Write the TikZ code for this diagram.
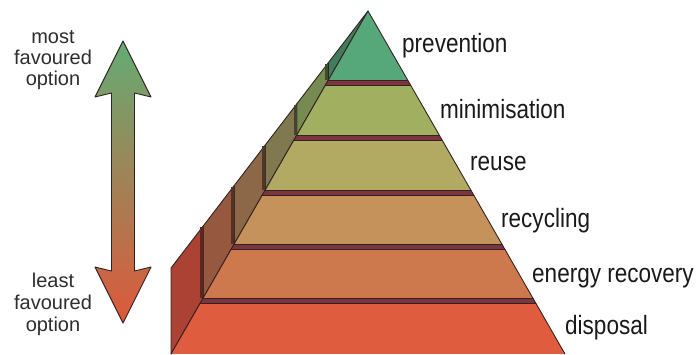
\documentclass[tikz,border=0pt]{standalone}
\usepackage{fontspec}
\setmainfont{Liberation Sans}
\definecolor{fc1}{RGB}{86,168,122}
\definecolor{fc2}{RGB}{160,176,96}
\definecolor{fc3}{RGB}{178,170,98}
\definecolor{fc4}{RGB}{198,146,92}
\definecolor{fc5}{RGB}{206,120,78}
\definecolor{fc6}{RGB}{224,92,62}
\definecolor{wc1}{RGB}{66,124,92}
\definecolor{wc2}{RGB}{118,138,82}
\definecolor{wc3}{RGB}{128,120,78}
\definecolor{wc4}{RGB}{140,104,72}
\definecolor{wc5}{RGB}{150,88,62}
\definecolor{wc6}{RGB}{172,66,52}
\definecolor{sepcol}{RGB}{125,52,62}
\definecolor{edgecol}{RGB}{50,35,35}
\definecolor{labcol}{RGB}{25,25,25}
\definecolor{sidecol}{RGB}{45,45,45}
\definecolor{arrtop}{RGB}{100,172,115}
\definecolor{arrmid}{RGB}{168,142,78}
\definecolor{arrbot}{RGB}{222,88,58}
\newcommand{\nar}[1]{\scalebox{0.85}[1]{#1}}
\begin{document}
\begin{tikzpicture}[x=1pt,y=-1pt,line join=round,
  edge/.style={draw=edgecol,line width=0.9pt},
  wallstrip/.style={line width=3pt},
  sepband/.style={fill=sepcol,draw=edgecol,line width=0.8pt},
  lab/.style={anchor=base west,inner sep=0pt,text=labcol,font=\fontsize{26.5}{30}\selectfont},
  sidelab/.style={anchor=base,inner sep=0pt,text=sidecol,font=\fontsize{20}{22}\selectfont}]
\useasboundingbox (0,0) rectangle (697,354);
% key points
\coordinate (A) at (368,11);
\coordinate (BL) at (171.0,354);
\coordinate (BR) at (565.0,354);
\coordinate (s1) at (328.37,62.7);  \coordinate (f1) at (328.37,80);
\coordinate (s2) at (296.78,103.9); \coordinate (f2) at (296.78,135);
\coordinate (s3) at (265.19,145.1); \coordinate (f3) at (265.19,190);
\coordinate (s4) at (234.18,185.6); \coordinate (f4) at (234.18,244);
\coordinate (s5) at (203.16,226.1); \coordinate (f5) at (203.16,298);
\coordinate (s6) at (171.0,268.0);  \coordinate (f6) at (171.0,354);
% side walls
\filldraw[fill=wc1,edge] (s1) -- (A) -- (f1) -- cycle;
\filldraw[fill=wc2,edge] (s2) -- (s1) -- (f1) -- (f2) -- cycle;
\filldraw[fill=wc3,edge] (s3) -- (s2) -- (f2) -- (f3) -- cycle;
\filldraw[fill=wc4,edge] (s4) -- (s3) -- (f3) -- (f4) -- cycle;
\filldraw[fill=wc5,edge] (s5) -- (s4) -- (f4) -- (f5) -- cycle;
\filldraw[fill=wc6,edge] (s6) -- (s5) -- (f5) -- (f6) -- cycle;
\draw[wallstrip,draw=wc2!55!black] ([xshift=-1.6pt,yshift=-1pt]s1) -- ([xshift=-1.6pt]f1);
\draw[wallstrip,draw=wc3!55!black] ([xshift=-1.6pt,yshift=-1pt]s2) -- ([xshift=-1.6pt]f2);
\draw[wallstrip,draw=wc4!55!black] ([xshift=-1.6pt,yshift=-1pt]s3) -- ([xshift=-1.6pt]f3);
\draw[wallstrip,draw=wc5!55!black] ([xshift=-1.6pt,yshift=-1pt]s4) -- ([xshift=-1.6pt]f4);
\draw[wallstrip,draw=wc6!55!black] ([xshift=-1.6pt,yshift=-1pt]s5) -- ([xshift=-1.6pt]f5);
% front face
\begin{scope}
\clip (A) -- (BL) -- (BR) -- cycle;
\fill[fc1] (150,0) rectangle (600,80);
\fill[fc2] (150,80) rectangle (600,135);
\fill[fc3] (150,135) rectangle (600,190);
\fill[fc4] (150,190) rectangle (600,244);
\fill[fc5] (150,244) rectangle (600,298);
\fill[fc6] (150,298) rectangle (600,354);
\filldraw[sepband] (150,80) rectangle (600,85);
\filldraw[sepband] (150,135) rectangle (600,140);
\filldraw[sepband] (150,190) rectangle (600,195);
\filldraw[sepband] (150,244) rectangle (600,249);
\filldraw[sepband] (150,298) rectangle (600,303);
\end{scope}
\draw[edge] (BL) -- (A) -- (BR);
% double arrow
\shade[top color=arrtop,middle color=arrmid,bottom color=arrbot,draw=edgecol,line width=0.9pt]
  (123,41) -- (151,97) -- (134.5,93) -- (134.5,271) -- (151,267) -- (123,323)
  -- (95,267) -- (111.5,271) -- (111.5,93) -- (95,97) -- cycle;
% labels
\node[lab] (prevention) at (402,52) {\nar{prevention}};
\node[lab] (minimisation) at (440,118) {\nar{minimisation}};
\node[lab] (reuse) at (470,170) {\nar{reuse}};
\node[lab] (recycling) at (501,227) {\nar{recycling}};
\node[lab] (energy) at (532,282) {\nar{energy recovery}};
\node[lab] (disposal) at (565,334) {\nar{disposal}};
\node[sidelab] (most1) at (53,43.3) {most};
\node[sidelab] (most2) at (53,64.5) {favoured};
\node[sidelab] (most3) at (53,85) {option};
\node[sidelab] (least1) at (53,287.7) {least};
\node[sidelab] (least2) at (53,309.5) {favoured};
\node[sidelab] (least3) at (53,331) {option};
\end{tikzpicture}
\end{document}
